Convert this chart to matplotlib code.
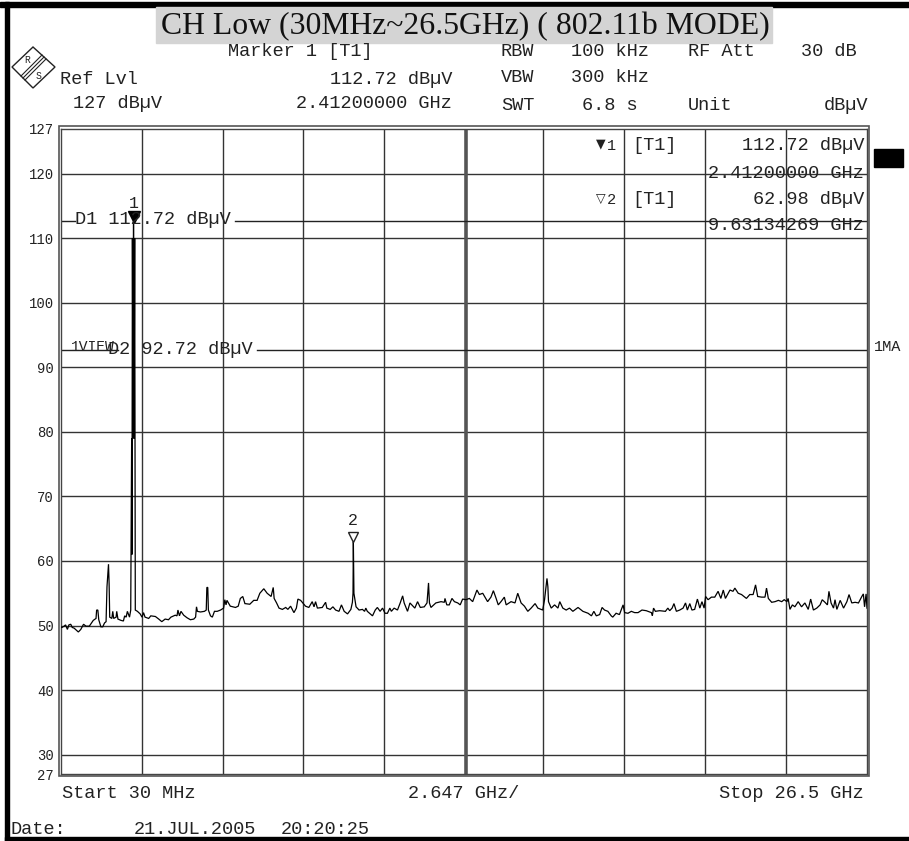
import matplotlib
matplotlib.use("Agg")
import matplotlib.pyplot as plt
from matplotlib.patches import Rectangle, Polygon
from matplotlib.lines import Line2D

# spectrum trace
freq_ghz = [0.03, 0.06, 0.13, 0.18, 0.24, 0.29, 0.35, 0.40, 0.46, 0.60, 0.68, 0.77, 0.85, 0.96, 1.09, 1.18, 1.20, 1.24,
            1.27, 1.34, 1.40, 1.46, 1.51, 1.54, 1.59, 1.61, 1.63, 1.70, 1.73, 1.76, 1.84, 1.86, 1.90, 2.00, 2.08, 2.12,
            2.17, 2.21, 2.28, 2.32, 2.35, 2.36, 2.375, 2.395, 2.412, 2.43, 2.45, 2.465, 2.47,
            2.54, 2.63, 2.69, 2.74, 2.79, 2.91, 2.98, 3.13, 3.24, 3.34, 3.45, 3.56, 3.64, 3.78, 3.84, 3.87, 3.92, 3.97,
            4.06, 4.17, 4.28, 4.39, 4.45, 4.48, 4.51, 4.61, 4.74, 4.80, 4.82, 4.85, 4.87, 4.94, 5.00, 5.07, 5.16, 5.27,
            5.37, 5.41, 5.45, 5.48, 5.59, 5.76, 5.85, 5.92, 6.00, 6.07, 6.23, 6.36, 6.47, 6.56, 6.69, 6.80, 6.93, 7.00,
            7.03, 7.11, 7.19, 7.30, 7.41, 7.48, 7.57, 7.68, 7.76, 7.81, 7.90, 8.06, 8.17, 8.28, 8.34, 8.39, 8.45, 8.61,
            8.72, 8.76, 8.87, 8.96, 9.05, 9.16, 9.24, 9.33, 9.44, 9.55, 9.60, 9.62, 9.631, 9.65, 9.72,
            9.82, 9.93, 10.00, 10.04, 10.09, 10.26, 10.35, 10.42, 10.51, 10.59, 10.67, 10.75, 10.83, 10.88, 10.97,
            11.08, 11.17, 11.25, 11.30, 11.41, 11.49, 11.55, 11.65, 11.74, 11.83, 11.96, 12.05, 12.10, 12.13, 12.18,
            12.34, 12.51, 12.62, 12.64, 12.70, 12.78, 12.87, 12.95, 13.06, 13.14, 13.22, 13.33, 13.44, 13.55, 13.69,
            13.77, 13.88, 14.04, 14.15, 14.23, 14.32, 14.39, 14.48, 14.59, 14.65, 14.81, 14.94, 15.03, 15.14, 15.25,
            15.36, 15.47, 15.60, 15.69, 15.85, 15.91, 15.99, 16.02, 16.04, 16.13, 16.24, 16.35, 16.41, 16.51, 16.62,
            16.73, 16.84, 17.01, 17.17, 17.34, 17.45, 17.53, 17.61, 17.72, 17.80, 17.88, 17.99, 18.10,
            18.15, 18.26, 18.37, 18.45, 18.49, 18.54, 18.65, 18.76, 18.87, 18.98, 19.11, 19.25, 19.42, 19.45, 19.49,
            19.55, 19.69, 19.88, 19.96, 20.02, 20.10, 20.16, 20.24, 20.35, 20.46, 20.54, 20.60, 20.68, 20.75, 20.84,
            20.93, 21.01, 21.08, 21.15, 21.20, 21.28, 21.39, 21.50, 21.61, 21.70, 21.78, 21.85, 22.00, 22.10, 22.16,
            22.27, 22.38, 22.54, 22.65, 22.76, 22.84, 22.91, 23.04, 23.15, 23.20, 23.26, 23.37, 23.48, 23.59, 23.70,
            23.78, 23.87, 23.91, 23.97, 24.05, 24.13, 24.24, 24.35, 24.46, 24.57, 24.65, 24.74, 24.85, 24.96, 25.03,
            25.12, 25.20, 25.25, 25.32, 25.40, 25.45, 25.51, 25.62, 25.73, 25.84, 25.91, 26.00, 26.11, 26.22, 26.33,
            26.38, 26.42, 26.47, 26.50]
level_dbuv = [49.8, 49.7, 49.9, 50.1, 49.4, 50.1, 50.2, 49.7, 49.6, 49.0, 49.4, 50.2, 49.9, 49.9, 50.8, 51.1, 52.4, 52.4,
              50.9, 49.8, 49.8, 50.4, 50.6, 56.0, 59.5, 56.5, 51.3, 51.1, 52.2, 51.1, 51.3, 52.2, 51.0, 50.8, 50.7, 51.5,
              51.3, 52.2, 51.3, 52.4, 79.0, 61.0, 110.0, 79.0, 112.72, 79.0, 110.0, 61.4, 52.4,
              52.2, 51.8, 51.3, 52.0, 51.3, 51.1, 51.5, 51.4, 51.0, 50.6, 51.0, 50.9, 51.3, 51.6, 51.5, 52.4, 51.5, 52.2,
              51.6, 51.2, 50.9, 51.0, 51.3, 52.9, 52.2, 52.1, 52.2, 52.4, 55.9, 55.9, 52.4, 51.5, 51.3, 52.2, 52.2, 52.4,
              52.7, 54.0, 53.2, 53.9, 53.0, 52.8, 53.0, 54.2, 54.5, 53.4, 53.3, 53.9, 53.9, 55.0, 55.7, 55.0, 54.5, 55.9,
              54.2, 53.5, 52.7, 52.5, 52.8, 52.5, 53.0, 52.0, 52.7, 54.1, 53.9, 53.0, 52.8, 53.7, 52.9, 53.7, 52.7, 52.8,
              53.6, 52.7, 52.5, 52.9, 52.4, 52.2, 53.2, 52.2, 51.8, 52.5, 53.6, 55.0, 62.98, 55.0, 52.9,
              52.4, 52.5, 52.2, 52.7, 52.2, 51.5, 52.4, 52.8, 52.2, 52.7, 51.9, 51.9, 52.7, 52.2, 52.7,
              52.4, 53.5, 54.6, 53.5, 52.2, 53.5, 53.2, 52.7, 53.7, 52.8, 52.9, 53.5, 56.6, 53.5, 52.8,
              53.5, 53.7, 53.6, 54.2, 53.2, 53.2, 54.2, 53.7, 53.5, 53.2, 54.1, 54.0, 54.2, 53.7, 55.5,
              54.8, 55.0, 53.7, 54.4, 55.4, 54.2, 53.2, 53.7, 54.4, 53.2, 53.7, 53.5, 55.0, 53.5, 53.0,
              52.2, 52.7, 53.4, 52.7, 52.4, 54.0, 57.3, 56.0, 53.7, 52.7, 53.2, 52.7, 53.7, 52.7, 52.4,
              52.7, 52.2, 52.8, 52.2, 51.9, 51.5, 52.2, 51.5, 51.7, 52.8, 52.4, 52.2, 51.5,
              51.3, 51.9, 51.7, 52.7, 53.2, 52.0, 51.9, 52.2, 52.0, 52.0, 52.4, 52.3, 52.0, 51.5, 52.7,
              52.2, 52.3, 52.2, 52.7, 52.3, 52.7, 53.4, 52.2, 52.4, 52.7, 53.5, 52.4, 53.4, 52.4, 52.5,
              54.1, 52.7, 53.7, 52.7, 54.5, 54.0, 54.4, 54.4, 55.3, 54.2, 55.5, 54.2, 55.5, 55.3, 55.8,
              55.0, 54.8, 54.2, 54.8, 54.8, 56.3, 54.5, 54.4, 54.4, 55.8, 54.2, 53.6, 53.7, 53.9, 53.7,
              54.0, 53.7, 54.2, 52.5, 53.2, 52.9, 53.7, 52.9, 53.5, 52.5, 54.1, 52.4, 52.7, 53.2, 54.0,
              53.6, 53.2, 55.3, 53.5, 52.7, 54.0, 52.5, 53.9, 52.7, 53.7, 54.8, 53.5, 53.6, 53.5, 54.5,
              54.9, 52.9, 54.9, 52.7]

grid_freqs = [2.68, 5.35, 7.98, 10.64, 15.86, 18.52, 21.18, 23.84]
center_freq = 13.33
grid_levels = [30, 40, 50, 60, 70, 80, 90, 100, 110, 120]
level_ticks = [27, 30, 40, 50, 60, 70, 80, 90, 100, 110, 120, 127]
marker_freqs = [2.412, 9.63134269]
marker_levels = [112.72, 62.98]
display_lines = [112.72, 92.72]
display_gaps = [(0.49, 5.74), (1.90, 6.47)]

W, H = 909, 841
MONO = "Liberation Mono"
INK = "#222222"


def px(x, y):
    return x / W, 1 - y / H


def label(x, y, s, ha="left", size=13.4, **kw):
    fx, fy = px(x, y)
    return fig.text(fx, fy, s, ha=ha, va="center", family=MONO, fontsize=size, color=INK, **kw)


fig = plt.figure(figsize=(W / 100, H / 100), dpi=100)
ax = fig.add_axes([61 / W, 1 - 774 / H, (867 - 61) / W, (774 - 128.5) / H])
ax.set_xlim(0.03, 26.5)
ax.set_ylim(27, 127)

# page border
fig.add_artist(Rectangle((0, 1 - 7 / H), 1, 5 / H, transform=fig.transFigure, color="black"))
fig.add_artist(Rectangle((5 / W, 0), 4 / W, 1 - 2 / H, transform=fig.transFigure, color="black"))
fig.add_artist(Rectangle((5 / W, 0), 1 - 5 / W, 4 / H, transform=fig.transFigure, color="black"))

# title
fig.add_artist(Rectangle(px(156, 43), 616 / W, 36 / H, transform=fig.transFigure, color="#d4d4d4"))
fx, fy = px(465, 27)
fig.text(fx, fy, "CH Low (30MHz~26.5GHz) ( 802.11b MODE)", ha="center", va="center",
         family="Liberation Serif", fontsize=22.9, color="#111111")

# R&S logo
logo = [px(33, 47), px(55, 67), px(33, 88), px(12, 67)]
fig.add_artist(Polygon(logo, closed=True, fill=False, edgecolor=INK, lw=1, transform=fig.transFigure))
for d in (-2, 0, 2):
    x0, y0 = px(23 + d, 78 + d)
    x1, y1 = px(44 + d, 57 + d)
    fig.add_artist(Line2D([x0, x1], [y0, y1], color=INK, lw=0.8, transform=fig.transFigure))
label(27, 60, "R", size=7, ha="center")
label(39, 76, "S", size=7, ha="center")

# header
label(228, 52, "Marker 1 [T1]")
label(60, 80, "Ref Lvl")
label(73, 104, "127 dB\u00b5V")
label(452, 80, "112.72 dB\u00b5V", ha="right")
label(452, 104, "2.41200000 GHz", ha="right")
label(501, 52, "RBW")
label(501, 78, "VBW")
label(501, 105, "SWT")
label(571, 52, "100 kHz")
label(571, 78, "300 kHz")
label(582, 105, "6.8 s")
label(688, 52, "RF Att")
label(688, 105, "Unit")
label(857, 52, "30 dB", ha="right")
label(868, 105, "dB\u00b5V", ha="right")

# grid
ax.set_yticks(level_ticks)
ax.set_xticks([])
ax.tick_params(axis="y", length=0, pad=5, labelsize=10, labelcolor=INK)
for t in ax.get_yticklabels():
    t.set_family(MONO)
for lev in grid_levels:
    ax.axhline(lev, color="#333333", lw=1, zorder=1)
for f in grid_freqs:
    ax.axvline(f, color="#333333", lw=1, zorder=1)
ax.axvline(center_freq, color="#555555", lw=2.6, zorder=1)
for sp in ax.spines.values():
    sp.set_color("#444444")
    sp.set_linewidth(1)
ax.add_patch(Rectangle((-0.0027, -0.0035), 1.0054, 1.007, transform=ax.transAxes, fill=False,
                       edgecolor="#555555", lw=1.2, clip_on=False))

# display lines, broken where their label sits
for lev, (gap0, gap1) in zip(display_lines, display_gaps):
    ax.plot([0.03, gap0], [lev, lev], color="#222222", lw=1, zorder=2)
    ax.plot([gap1, 26.5], [lev, lev], color="#222222", lw=1, zorder=2)
label(75, 220, "D1 112.72 dB\u00b5V")
label(71, 347, "1VIEW", size=10.5)
label(108, 349, "D2 92.72 dB\u00b5V")

# trace and markers
ax.plot(freq_ghz, level_dbuv, color="black", lw=0.9, zorder=3, solid_joinstyle="miter")
ax.plot(marker_freqs[0], marker_levels[0] + 0.55, marker="v", ms=8, color="black", zorder=4)
ax.plot(marker_freqs[1], marker_levels[1] + 0.8, marker="v", ms=7, mfc="white", mec="#222222", zorder=4)
ax.annotate("1", (marker_freqs[0], marker_levels[0]), xytext=(0, 10), textcoords="offset pixels",
            ha="center", va="bottom", family=MONO, fontsize=12, color=INK, zorder=5)
ax.annotate("2", (marker_freqs[1], marker_levels[1]), xytext=(0, 14), textcoords="offset pixels",
            ha="center", va="bottom", family=MONO, fontsize=12, color=INK, zorder=5)

# marker table
mk = label(596, 144, "\u25bc", size=9)
mk.set_family("DejaVu Sans")
label(607, 146, "1", size=11)
mk = label(596, 199, "\u25bd", size=9)
mk.set_family("DejaVu Sans")
label(607, 200, "2", size=11)
label(632, 146, "[T1]")
label(632, 200, "[T1]")
label(864, 146, "112.72 dB\u00b5V", ha="right")
label(864, 174, "2.41200000 GHz", ha="right")
label(864, 199, "62.98 dB\u00b5V", ha="right")
label(864, 226, "9.63134269 GHz", ha="right")

# right side
fig.add_artist(Rectangle(px(874, 167), 29 / W, 18 / H, transform=fig.transFigure, color="black"))
label(874, 347, "1MA", size=11)

# footer
label(62, 794, "Start 30 MHz")
label(408, 794, "2.647 GHz/")
label(864, 794, "Stop 26.5 GHz", ha="right")
label(10, 829, "Date:")
label(134, 829, "21.JUL.2005")
label(281, 829, "20:20:25")

fig.savefig("out.png", dpi=100)
